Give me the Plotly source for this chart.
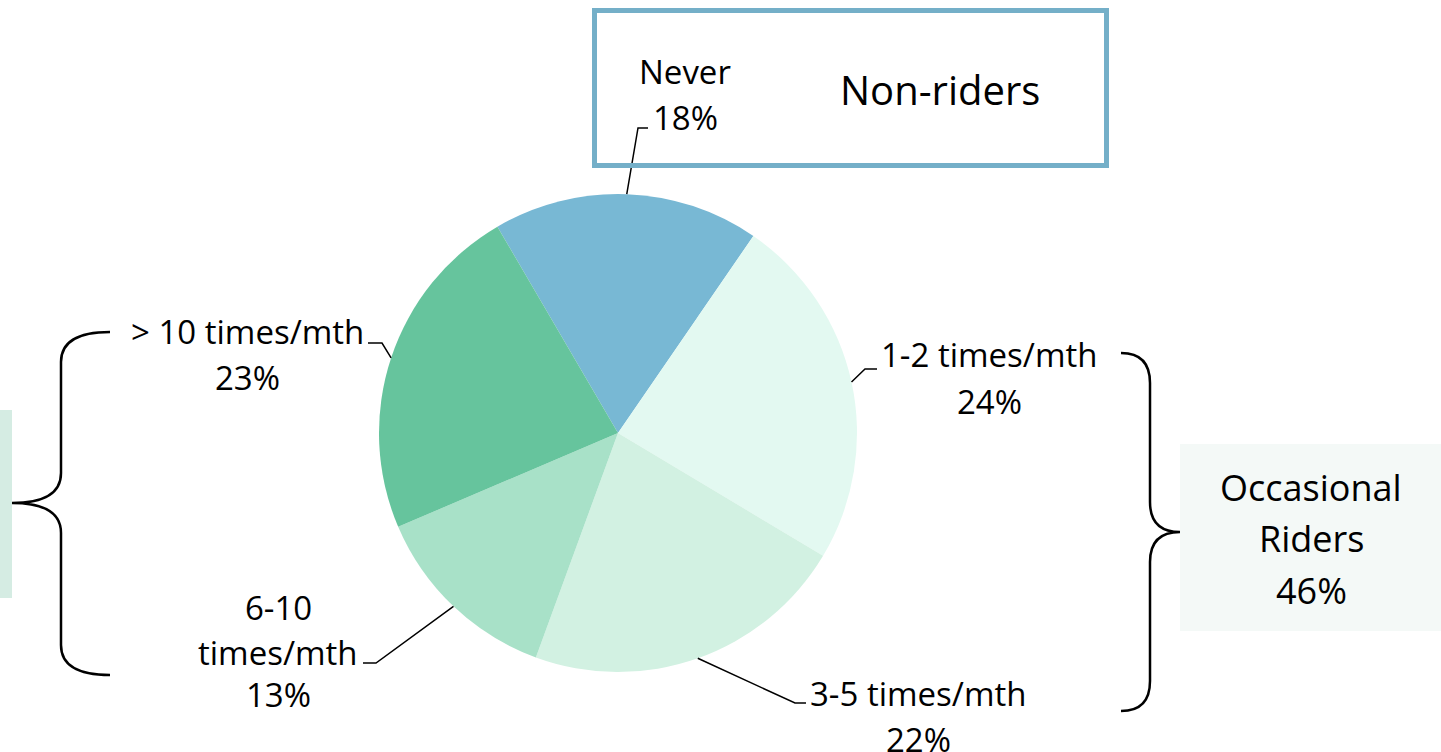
import math
import plotly.graph_objects as go

# Rider frequency split
categories = ["Never", "1-2 times/mth", "3-5 times/mth", "6-10 times/mth", "> 10 times/mth"]
shares = [18, 24, 22, 13, 23]
label_lines = [["Never", "18%"], ["1-2 times/mth", "24%"], ["3-5 times/mth", "22%"],
               ["6-10", "times/mth", "13%"], ["> 10 times/mth", "23%"]]
slice_colors = ["#78B8D4", "#E3F9F1", "#D2F1E2", "#A8E1C8", "#66C49D"]
group_labels = ["Non-riders", "Occasional", "Riders", "46%"]

W, H = 1441, 752
FONT = "Open Sans"
START_ANGLE = -30.3  # degrees clockwise from 12 o'clock

# pie placement in pixels
CX, CY, R = 618, 433, 239


def px(x):
    return x / W


def py(y):
    return 1 - y / H


fig = go.Figure()
fig.add_trace(go.Pie(
    labels=categories, values=shares, sort=False, direction="clockwise",
    rotation=START_ANGLE, textinfo="none", hoverinfo="label+percent",
    marker=dict(colors=slice_colors, line=dict(width=0)),
    domain=dict(x=[px(CX - R), px(CX + R)], y=[py(CY + R), py(CY - R)]),
    showlegend=False,
))

shapes = []
annotations = []

# leader lines start at each slice's mid-angle on the rim
total = sum(shares)
elbows = [[(638, 128), (648, 128)], [(865, 369), (877, 369)], [(795, 703), (806, 703)],
          [(376, 663), (363, 663)], [(382, 343), (368, 343)]]
acc = 0
for v, pts in zip(shares, elbows):
    mid = math.radians(START_ANGLE + 360 * (acc + v / 2) / total)
    acc += v
    sx, sy = CX + R * math.sin(mid), CY - R * math.cos(mid)
    path_pts = [(sx, sy)] + pts
    d = "M " + " L ".join(f"{px(x):.5f},{py(y):.5f}" for x, y in path_pts)
    shapes.append(dict(type="path", xref="paper", yref="paper", path=d,
                       line=dict(color="black", width=1.5)))

# label text positions (center x, list of line center y)
label_pos = [(685, [72, 117]), (989, [355, 401]), (918, [693, 739]),
             (278, [607, 652, 694]), (247, [332, 377])]
for lines, (lx, ys) in zip(label_lines, label_pos):
    for t, ly in zip(lines, ys):
        annotations.append(dict(x=px(lx), y=py(ly), xref="paper", yref="paper",
                                text=t, showarrow=False, xanchor="center", yanchor="middle",
                                font=dict(family=FONT, size=33, color="black")))

# Non-riders box
shapes.append(dict(type="rect", xref="paper", yref="paper",
                   x0=px(594.5), x1=px(1106.5), y0=py(165.5), y1=py(10.5),
                   line=dict(color="#74AFC8", width=5), fillcolor="rgba(0,0,0,0)"))
annotations.append(dict(x=px(940), y=py(90), xref="paper", yref="paper", text=group_labels[0],
                        showarrow=False, xanchor="center", yanchor="middle",
                        font=dict(family=FONT, size=40, color="black")))

# Occasional riders box
shapes.append(dict(type="rect", xref="paper", yref="paper", layer="below",
                   x0=px(1180), x1=px(1441), y0=py(631), y1=py(444),
                   line=dict(width=0), fillcolor="#F4F9F7"))
for t, ly in zip(group_labels[1:], [487, 538, 590]):
    annotations.append(dict(x=px(1311), y=py(ly), xref="paper", yref="paper", text=t,
                            showarrow=False, xanchor="center", yanchor="middle",
                            font=dict(family=FONT, size=36, color="black")))

# partially visible box on the left edge
shapes.append(dict(type="rect", xref="paper", yref="paper", layer="below",
                   x0=px(0), x1=px(12), y0=py(598), y1=py(410),
                   line=dict(width=0), fillcolor="#D5ECE3"))


def brace(x_tip, y_tip, x_mid, x_end, y_top, y_bot, curl=30):
    """Curly brace path in pixel space converted to paper units."""
    def P(x, y):
        return f"{px(x):.5f},{py(y):.5f}"
    d = (f"M {P(x_end, y_top)} "
         f"Q {P(x_mid, y_top)} {P(x_mid, y_top + curl)} "
         f"L {P(x_mid, y_tip - curl)} "
         f"Q {P(x_mid, y_tip)} {P(x_tip, y_tip)} "
         f"Q {P(x_mid, y_tip)} {P(x_mid, y_tip + curl)} "
         f"L {P(x_mid, y_bot - curl)} "
         f"Q {P(x_mid, y_bot)} {P(x_end, y_bot)}")
    return dict(type="path", xref="paper", yref="paper", path=d,
                line=dict(color="black", width=2.5))


shapes.append(brace(1180, 532, 1150, 1121, 353, 711))
shapes.append(brace(12, 503, 61, 110, 332, 675))

fig.update_layout(
    width=W, height=H, margin=dict(l=0, r=0, t=0, b=0),
    paper_bgcolor="white", plot_bgcolor="white",
    shapes=shapes, annotations=annotations,
)
fig.write_html("out.html")
